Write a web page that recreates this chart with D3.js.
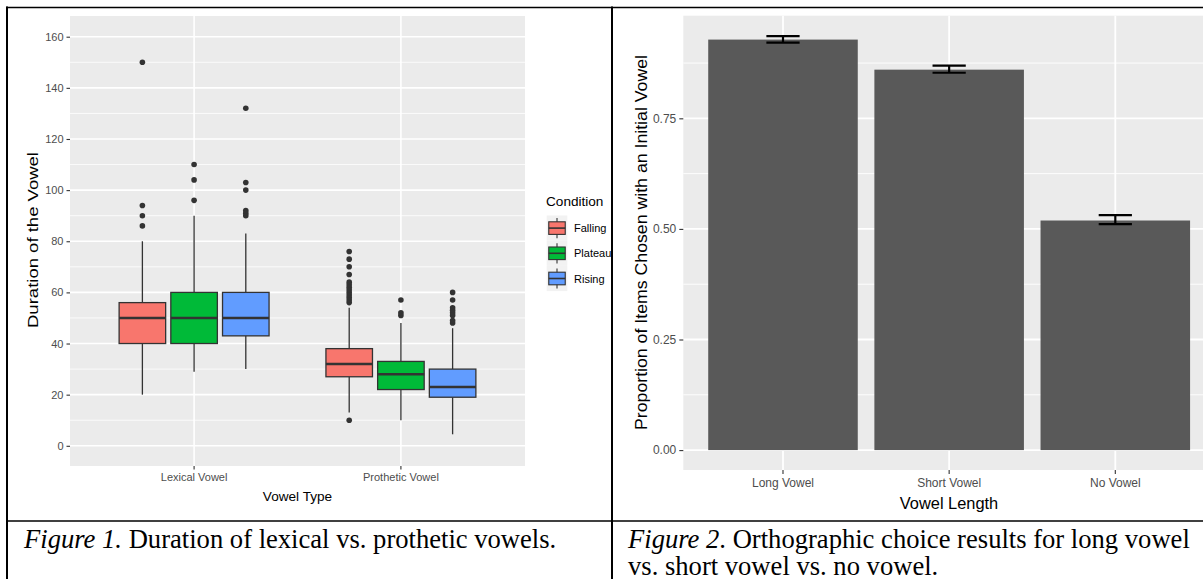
<!DOCTYPE html>
<html>
<head>
<meta charset="utf-8">
<script src="https://cdn.jsdelivr.net/npm/d3@7"></script>
<style>
  body { margin: 0; background: #fff; }
  svg { display: block; font-family: "Liberation Sans", Arial, sans-serif; }
</style>
</head>
<body>
<script>
// ---- data, figure 1 (boxplots) ----
const vowelTypes = ["Lexical Vowel", "Prothetic Vowel"];
const conditions = ["Falling", "Plateau", "Rising"];
const conditionColors = ["#F8766D", "#00BA38", "#619CFF"];
// [whisker low, q1, median, q3, whisker high] per condition
const lexicalBoxes = [[20, 40, 50, 56, 80], [29, 40, 50, 60, 90], [30, 43, 50, 60, 83]];
const protheticBoxes = [[13, 27, 32, 38, 54], [10, 22, 28, 33, 48], [4.5, 19, 23, 30, 46]];
const lexicalOutliers = [[86, 90, 94, 150], [96, 104, 110], [90, 91, 92, 100, 103, 132]];
const protheticOutliers = [
  [10, 56, 57, 58, 59, 60, 61, 62, 63, 64, 67, 70, 73, 76],
  [51, 52, 57],
  [48, 49, 51, 52, 53, 54, 57, 60]
];
const durationTicks = [0, 20, 40, 60, 80, 100, 120, 140, 160];
const durationMinor = [10, 30, 50, 70, 90, 110, 130, 150];

// ---- data, figure 2 (bars) ----
const lengthCats = ["Long Vowel", "Short Vowel", "No Vowel"];
const proportions = [0.928, 0.860, 0.519];
const errLow = [0.921, 0.853, 0.511];
const errHigh = [0.936, 0.869, 0.531];
const propTicks = [0, 0.25, 0.5, 0.75];
const propMinor = [0.125, 0.375, 0.625, 0.875];

const W = 1203, H = 579;
const svg = d3.select("body").append("svg").attr("width", W).attr("height", H);

// ================= Figure 1 =================
const p1 = { left: 70, right: 525, top: 16, bottom: 466 };
const g1 = svg.append("g");

const x1 = d3.scaleBand().domain(vowelTypes).range([p1.left, p1.right])
  .paddingInner(0).paddingOuter(0.1);
const xc = d3.scaleBand().domain(conditions)
  .range([x1.bandwidth() * 0.125, x1.bandwidth() * 0.875])
  .paddingInner(0.1).paddingOuter(0.05);
const y1 = d3.scaleLinear().domain([-7.9, 168.1]).range([p1.bottom, p1.top]);

g1.append("rect").attr("x", p1.left).attr("y", p1.top)
  .attr("width", p1.right - p1.left).attr("height", p1.bottom - p1.top)
  .attr("fill", "#EBEBEB");

g1.selectAll(".minor").data(durationMinor).join("line")
  .attr("x1", p1.left).attr("x2", p1.right)
  .attr("y1", d => y1(d)).attr("y2", d => y1(d))
  .attr("stroke", "#fff").attr("stroke-width", 0.8);
g1.selectAll(".major").data(durationTicks).join("line")
  .attr("x1", p1.left).attr("x2", p1.right)
  .attr("y1", d => y1(d)).attr("y2", d => y1(d))
  .attr("stroke", "#fff").attr("stroke-width", 1.6);
g1.selectAll(".vgrid").data(vowelTypes).join("line")
  .attr("x1", d => x1(d) + x1.bandwidth() / 2).attr("x2", d => x1(d) + x1.bandwidth() / 2)
  .attr("y1", p1.top).attr("y2", p1.bottom)
  .attr("stroke", "#fff").attr("stroke-width", 1.6);

const boxSets = [lexicalBoxes, protheticBoxes];
const outlierSets = [lexicalOutliers, protheticOutliers];

vowelTypes.forEach((vt, vi) => {
  conditions.forEach((c, ci) => {
    const [lo, q1, med, q3, hi] = boxSets[vi][ci];
    const bx = x1(vt) + xc(c);
    const cx = bx + xc.bandwidth() / 2;
    const grp = g1.append("g");
    grp.append("line").attr("x1", cx).attr("x2", cx)
      .attr("y1", y1(hi)).attr("y2", y1(q3)).attr("stroke", "#333").attr("stroke-width", 1.3);
    grp.append("line").attr("x1", cx).attr("x2", cx)
      .attr("y1", y1(q1)).attr("y2", y1(lo)).attr("stroke", "#333").attr("stroke-width", 1.3);
    grp.append("rect").attr("x", bx).attr("y", y1(q3))
      .attr("width", xc.bandwidth()).attr("height", y1(q1) - y1(q3))
      .attr("fill", conditionColors[ci]).attr("stroke", "#333").attr("stroke-width", 1.3);
    grp.append("line").attr("x1", bx).attr("x2", bx + xc.bandwidth())
      .attr("y1", y1(med)).attr("y2", y1(med)).attr("stroke", "#333").attr("stroke-width", 2.6);
    grp.selectAll("circle").data(outlierSets[vi][ci]).join("circle")
      .attr("cx", cx).attr("cy", d => y1(d)).attr("r", 2.8).attr("fill", "#333");
  });
});

// axes
const yAxis1 = g1.append("g").attr("transform", `translate(${p1.left},0)`)
  .call(d3.axisLeft(y1).tickValues(durationTicks).tickSize(3.5).tickPadding(3));
const xAxis1 = g1.append("g").attr("transform", `translate(0,${p1.bottom})`)
  .call(d3.axisBottom(x1).tickSize(3.5).tickPadding(4));
[yAxis1, xAxis1].forEach(a => {
  a.select(".domain").remove();
  a.selectAll(".tick line").attr("stroke", "#333").attr("stroke-width", 1.1);
  a.selectAll(".tick text").attr("fill", "#4D4D4D").attr("font-size", 11)
    .attr("font-family", "Liberation Sans, Arial, sans-serif");
});

g1.append("text").attr("x", (p1.left + p1.right) / 2).attr("y", 501)
  .attr("text-anchor", "middle").attr("font-size", 13.6).attr("fill", "#000")
  .text("Vowel Type");
g1.append("text").attr("transform", `translate(38,240) rotate(-90)`)
  .attr("text-anchor", "middle").attr("font-size", 14).attr("fill", "#000")
  .attr("textLength", 176).attr("lengthAdjust", "spacingAndGlyphs")
  .text("Duration of the Vowel");

// legend
const lg = g1.append("g").attr("transform", "translate(546,0)");
lg.append("text").attr("x", 0).attr("y", 205.5).attr("font-size", 13.6).text("Condition");
const keyW = 20.6, keyH = 25.2, keyTop = 215.5;
conditions.forEach((c, i) => {
  const ky = keyTop + i * keyH;
  const k = lg.append("g").attr("transform", `translate(0.7,${ky})`);
  k.append("rect").attr("width", keyW).attr("height", keyH).attr("fill", "#F2F2F2");
  k.append("line").attr("x1", keyW / 2).attr("x2", keyW / 2).attr("y1", keyH * 0.1).attr("y2", keyH * 0.9)
    .attr("stroke", "#333").attr("stroke-width", 1.1);
  k.append("rect").attr("x", keyW * 0.1).attr("y", keyH * 0.25)
    .attr("width", keyW * 0.8).attr("height", keyH * 0.5)
    .attr("fill", conditionColors[i]).attr("stroke", "#333").attr("stroke-width", 1.1);
  k.append("line").attr("x1", keyW * 0.1).attr("x2", keyW * 0.9).attr("y1", keyH / 2).attr("y2", keyH / 2)
    .attr("stroke", "#333").attr("stroke-width", 1.6);
  lg.append("text").attr("x", 28).attr("y", ky + keyH / 2 + 4).attr("font-size", 11).attr("fill", "#000")
    .text(c);
});

// ================= Figure 2 =================
const p2 = { left: 683.3, right: 1215, top: 15.7, bottom: 470 };
const g2 = svg.append("g");

const x2 = d3.scaleBand().domain(lengthCats).range([p2.left, p2.right])
  .paddingInner(0.1).paddingOuter(0.15);
const y2 = d3.scaleLinear().domain([-0.045, 0.982]).range([p2.bottom, p2.top]);

g2.append("rect").attr("x", p2.left).attr("y", p2.top)
  .attr("width", p2.right - p2.left).attr("height", p2.bottom - p2.top)
  .attr("fill", "#EBEBEB");
g2.selectAll(".minor").data(propMinor).join("line")
  .attr("x1", p2.left).attr("x2", p2.right)
  .attr("y1", d => y2(d)).attr("y2", d => y2(d))
  .attr("stroke", "#fff").attr("stroke-width", 0.9);
g2.selectAll(".major").data(propTicks).join("line")
  .attr("x1", p2.left).attr("x2", p2.right)
  .attr("y1", d => y2(d)).attr("y2", d => y2(d))
  .attr("stroke", "#fff").attr("stroke-width", 1.8);
const cx2 = d => x2(d) + x2.bandwidth() / 2;
g2.selectAll(".vgrid").data(lengthCats).join("line")
  .attr("x1", cx2).attr("x2", cx2)
  .attr("y1", p2.top).attr("y2", p2.bottom)
  .attr("stroke", "#fff").attr("stroke-width", 1.8);

g2.selectAll(".bar").data(lengthCats).join("rect")
  .attr("x", d => x2(d)).attr("width", x2.bandwidth())
  .attr("y", (d, i) => y2(proportions[i]))
  .attr("height", (d, i) => y2(0) - y2(proportions[i]))
  .attr("fill", "#595959");

const ew = x2.step() * 0.2;
lengthCats.forEach((d, i) => {
  const c = cx2(d);
  const eg = g2.append("g").attr("stroke", "#000").attr("stroke-width", 2.2);
  eg.append("line").attr("x1", c - ew / 2).attr("x2", c + ew / 2).attr("y1", y2(errHigh[i])).attr("y2", y2(errHigh[i]));
  eg.append("line").attr("x1", c - ew / 2).attr("x2", c + ew / 2).attr("y1", y2(errLow[i])).attr("y2", y2(errLow[i]));
  eg.append("line").attr("x1", c).attr("x2", c).attr("y1", y2(errHigh[i])).attr("y2", y2(errLow[i]));
});

const yAxis2 = g2.append("g").attr("transform", `translate(${p2.left},0)`)
  .call(d3.axisLeft(y2).tickValues(propTicks).tickFormat(d3.format(".2f")).tickSize(4).tickPadding(3));
const xAxis2 = g2.append("g").attr("transform", `translate(0,${p2.bottom})`)
  .call(d3.axisBottom(x2).tickSize(4).tickPadding(4));
[yAxis2, xAxis2].forEach(a => {
  a.select(".domain").remove();
  a.selectAll(".tick line").attr("stroke", "#333").attr("stroke-width", 1.1);
  a.selectAll(".tick text").attr("fill", "#4D4D4D").attr("font-size", 12)
    .attr("font-family", "Liberation Sans, Arial, sans-serif");
});

g2.append("text").attr("x", 949).attr("y", 509)
  .attr("text-anchor", "middle").attr("font-size", 16.4).attr("fill", "#000")
  .text("Vowel Length");
g2.append("text").attr("transform", `translate(647,242.5) rotate(-90)`)
  .attr("text-anchor", "middle").attr("font-size", 16).attr("fill", "#000")
  .attr("textLength", 375).attr("lengthAdjust", "spacingAndGlyphs")
  .text("Proportion of Items Chosen with an Initial Vowel");

// ================= table frame and captions =================
const frame = svg.append("g").attr("stroke", "#000").attr("fill", "none");
frame.append("line").attr("x1", 6).attr("x2", W).attr("y1", 7.5).attr("y2", 7.5).attr("stroke-width", 1.5);
frame.append("line").attr("x1", 7).attr("x2", 7).attr("y1", 6.5).attr("y2", H).attr("stroke-width", 2);
frame.append("line").attr("x1", 612).attr("x2", 612).attr("y1", 6.5).attr("y2", H).attr("stroke-width", 2);
frame.append("line").attr("x1", 6).attr("x2", W).attr("y1", 521).attr("y2", 521).attr("stroke-width", 1.5);

const cap = svg.append("g").attr("font-family", "Liberation Serif, Times New Roman, serif")
  .attr("font-size", 26.6).attr("fill", "#000");
const c1 = cap.append("text").attr("x", 24).attr("y", 548);
c1.append("tspan").attr("font-style", "italic").text("Figure 1.");
c1.append("tspan").text(" Duration of lexical vs. prothetic vowels.");
const c2 = cap.append("text").attr("x", 628).attr("y", 548);
c2.append("tspan").attr("font-style", "italic").text("Figure 2");
c2.append("tspan").text(". Orthographic choice results for long vowel");
cap.append("text").attr("x", 628).attr("y", 574.5).text("vs. short vowel vs. no vowel.");
</script>
</body>
</html>
